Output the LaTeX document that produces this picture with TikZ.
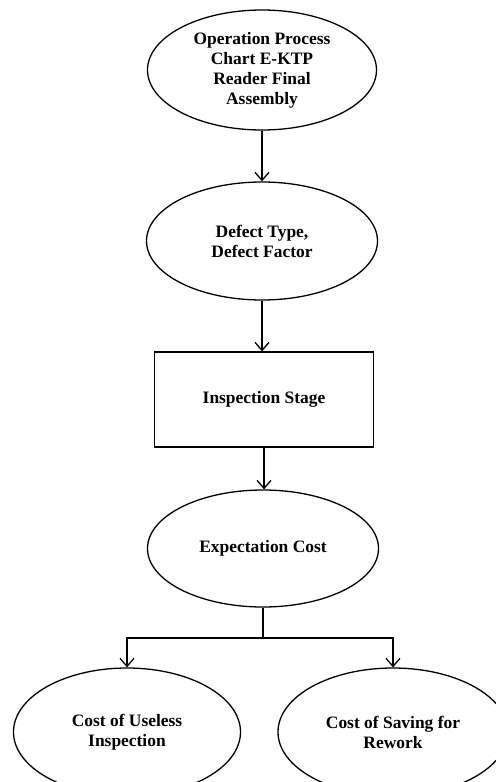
\documentclass[tikz,border=0pt]{standalone}
\usepackage{fontspec}
\setmainfont{Liberation Serif}
\usetikzlibrary{shapes.geometric,arrows.meta}
\begin{document}
\begin{tikzpicture}[x=1bp,y={(0,-1bp)},
  line width=1.3bp,
  lbl/.style={font=\bfseries\fontsize{17.5}{20}\selectfont, align=center, inner sep=0pt},
  oval/.style={lbl, draw, ellipse, minimum width=231bp, minimum height=118bp},
  box/.style={lbl, draw, rectangle, minimum width=219bp, minimum height=95bp},
  arr/.style={-{Straight Barb[length=8bp,width=14bp]}}]
\useasboundingbox (0,0) rectangle (496,782);
\clip (0,0) rectangle (496,782);
\node[oval, minimum width=229bp, minimum height=120bp] (opc) at (262,70) {Operation Process\\Chart E-KTP\\Reader Final\\Assembly};
\node[oval] (dt) at (262,241) {Defect Type,\\Defect Factor};
\node[box] (is) at (264,399.5) {Inspection Stage};
\node[oval, minimum height=117bp] (ec) at (263,548.5) {Expectation Cost};
\node[oval, minimum width=227bp, minimum height=128bp] (cu) at (127,732) {Cost of Useless\\Inspection};
\node[oval, minimum width=230bp, minimum height=128bp] (cs) at (393,732) {Cost of Saving for\\Rework};
\coordinate (split) at (ec.south |- 0,638);
\draw[arr] (opc.south) -- (opc.south |- dt.north);
\draw[arr] (dt.south) -- (dt.south |- is.north);
\draw[arr] (is.south) -- (is.south |- ec.north);
\draw (ec.south) -- (split);
\draw[arr] (split) -| (cu.north);
\draw[arr] (split) -| (cs.north);
\end{tikzpicture}
\end{document}
